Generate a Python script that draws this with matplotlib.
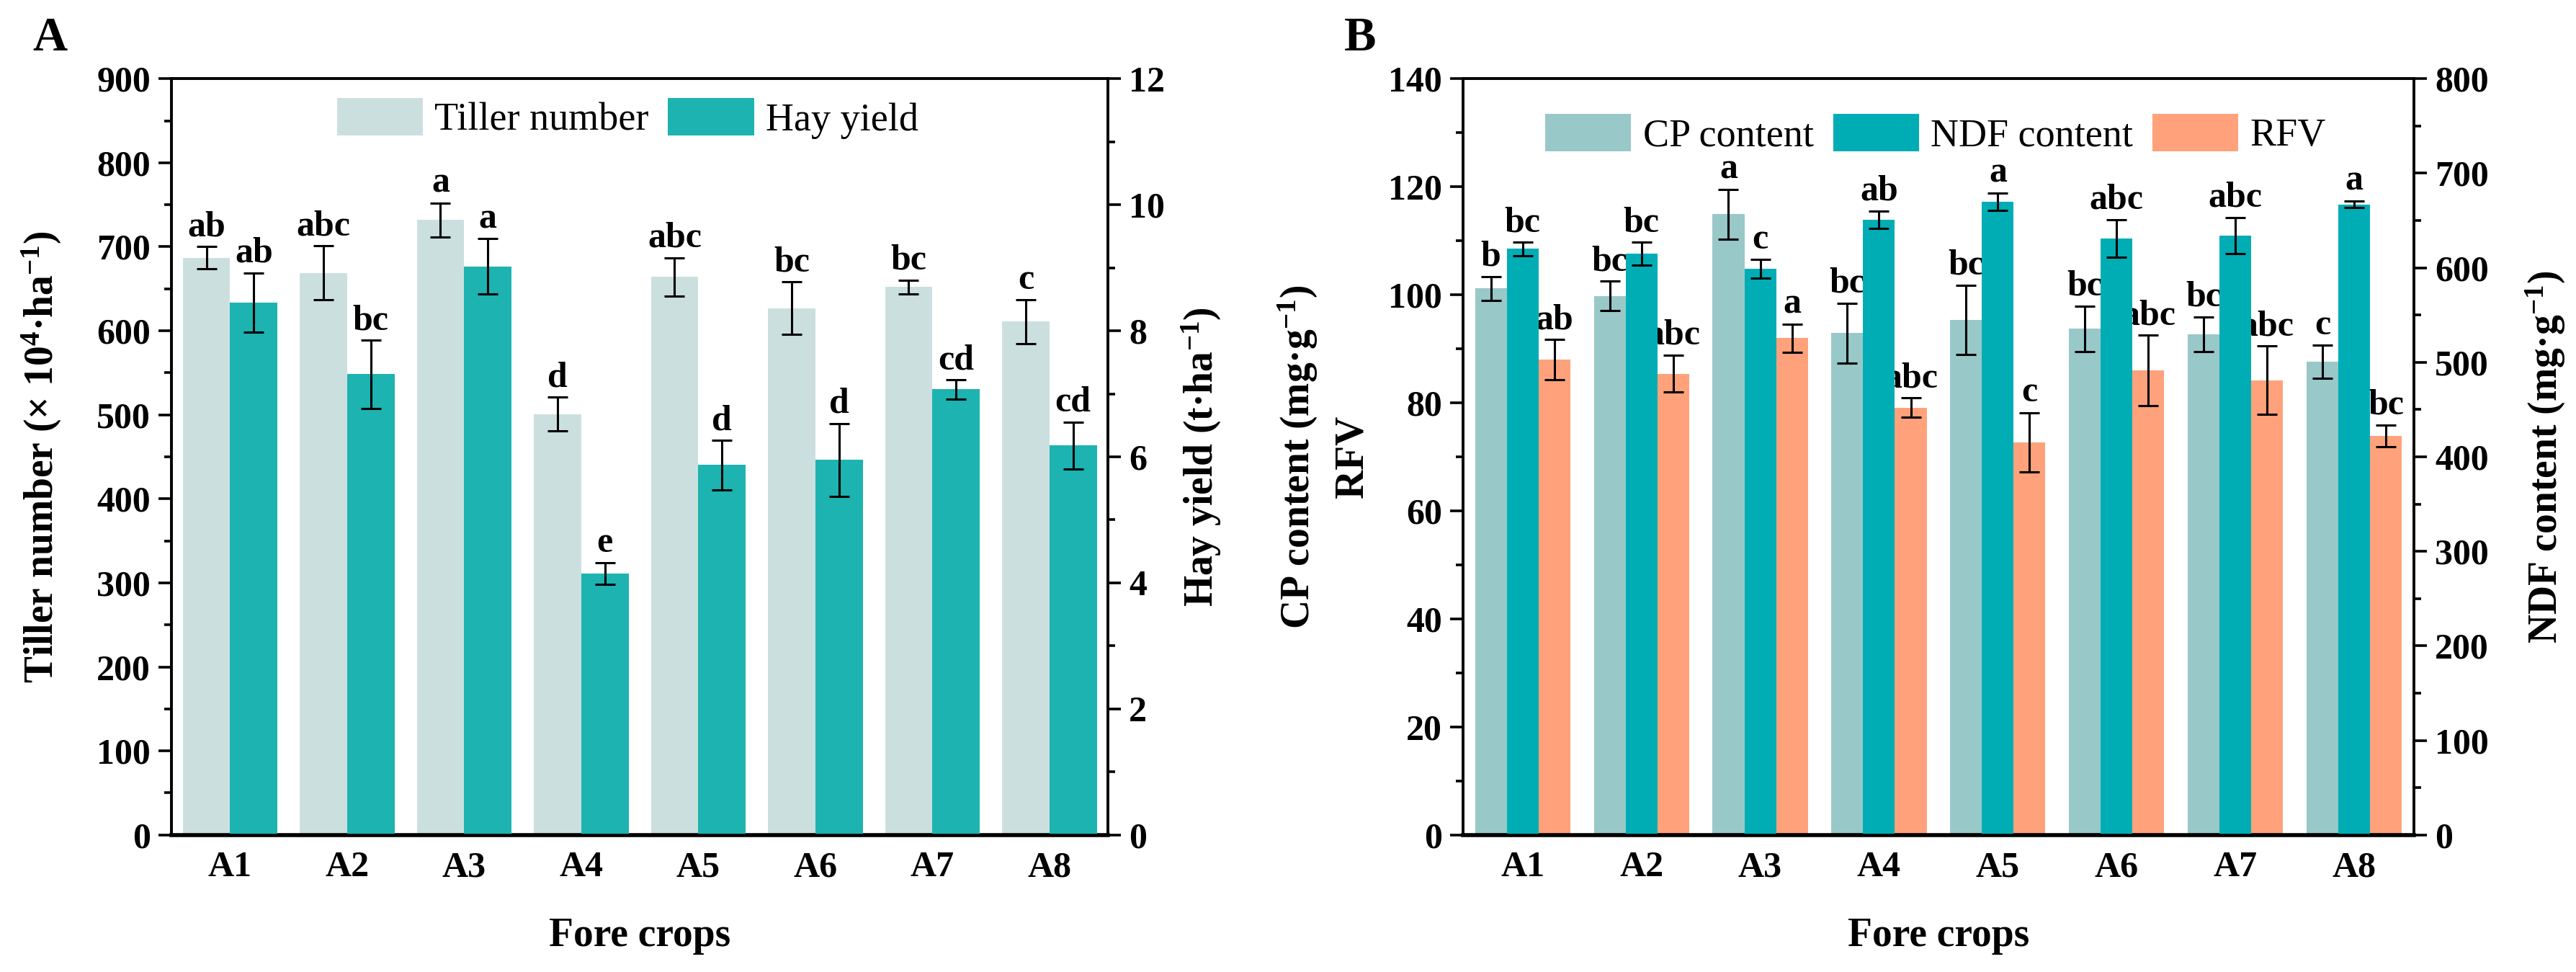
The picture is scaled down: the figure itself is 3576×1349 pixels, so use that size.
import numpy as np
import matplotlib
matplotlib.use("Agg")
import matplotlib.pyplot as plt
from matplotlib.ticker import MultipleLocator

plt.rcParams["font.family"] = ["Liberation Serif", "DejaVu Serif"]
plt.rcParams["font.weight"] = "bold"
plt.rcParams["mathtext.fontset"] = "custom"
plt.rcParams["mathtext.rm"] = "Liberation Serif:bold"
plt.rcParams["mathtext.bf"] = "Liberation Serif:bold"
plt.rcParams["mathtext.it"] = "Liberation Serif:bold"
plt.rcParams["axes.linewidth"] = 2.6

#%% DATA
crops = ["A1", "A2", "A3", "A4", "A5", "A6", "A7", "A8"]

# panel A
tiller = [687, 669, 732, 501, 664, 627, 652, 611]
tiller_err = [13, 32, 20, 20, 23, 31, 8, 26]
tiller_sig = ["ab", "abc", "a", "d", "abc", "bc", "bc", "c"]

hay = [8.45, 7.31, 9.02, 4.15, 5.87, 5.95, 7.07, 6.18]
hay_err = [0.47, 0.54, 0.44, 0.17, 0.39, 0.58, 0.15, 0.37]
hay_sig = ["ab", "bc", "a", "e", "d", "d", "cd", "cd"]

# panel B
cp = [101.2, 99.8, 114.9, 92.9, 95.4, 93.7, 92.7, 87.6]
cp_err = [2.2, 2.7, 4.6, 5.5, 6.4, 4.2, 3.2, 3.1]
cp_sig = ["b", "bc", "a", "bc", "bc", "bc", "bc", "c"]

ndf = [620, 615, 599, 651, 670, 631, 634, 667]
ndf_err = [7, 12, 10, 9, 9, 20, 19, 3.5]
ndf_sig = ["bc", "bc", "c", "ab", "a", "abc", "abc", "a"]

rfv = [88.0, 85.4, 92.0, 79.1, 72.7, 86.0, 84.2, 73.9]
rfv_err = [3.7, 3.4, 2.6, 1.8, 5.5, 6.5, 6.3, 2.0]
rfv_sig = ["ab", "abc", "a", "abc", "c", "abc", "abc", "bc"]

c_tiller = "#CBE0DE"
c_hay = "#1DB3B0"
c_cp = "#99C8C9"
c_ndf = "#01ADB5"
c_rfv = "#FFA27C"

x = np.arange(1, len(crops) + 1)
ekw = dict(ecolor="black", elinewidth=2.2, capsize=10, capthick=2.2)
tick_fs = 36
label_fs = 40
sig_fs = 36
leg_fs = 39


def style_axis(ax):
    ax.tick_params(axis="y", which="major", direction="out", length=13,
                   width=2.6, labelsize=tick_fs, pad=8)
    ax.tick_params(axis="y", which="minor", direction="out", length=7,
                   width=2.6)
    ax.tick_params(axis="x", which="both", length=0, labelsize=tick_fs,
                   pad=16)


def add_letters(ax, xs, vals, errs, sigs):
    for xi, v, e, s in zip(xs, vals, errs, sigs):
        ax.annotate(s, (xi, v + e), xytext=(0, 3), textcoords="offset points",
                    ha="center", va="bottom", fontsize=sig_fs,
                    fontweight="bold")


def vlabel(ax, xpos, txt):
    # rotated axis title centred on the given axes-fraction x
    ax.text(xpos, 0.5, txt, transform=ax.transAxes, rotation=90,
            ha="center", va="center", fontsize=label_fs, fontweight="bold")


fig = plt.figure(figsize=(35.76, 13.49), dpi=100)

#%% PANEL A
axA = fig.add_axes([0.0666, 0.141, 0.3635, 0.778])
axA2 = axA.twinx()
w = 0.405
b1 = axA.bar(x - w / 2, tiller, w, color=c_tiller, yerr=tiller_err,
             error_kw=ekw, zorder=2)
b2 = axA2.bar(x + w / 2, hay, w, color=c_hay, yerr=hay_err,
              error_kw=ekw, zorder=2)
add_letters(axA, x - w / 2, tiller, tiller_err, tiller_sig)
add_letters(axA2, x + w / 2, hay, hay_err, hay_sig)

axA.set_xlim(0.5, 8.5)
axA.set_ylim(0, 900)
axA2.set_ylim(0, 12)
axA.yaxis.set_major_locator(MultipleLocator(100))
axA.yaxis.set_minor_locator(MultipleLocator(50))
axA2.yaxis.set_major_locator(MultipleLocator(2))
axA2.yaxis.set_minor_locator(MultipleLocator(1))
axA.set_xticks(x)
axA.set_xticklabels(crops)
style_axis(axA)
style_axis(axA2)
axA.spines["bottom"].set_linewidth(4)

vlabel(axA, -0.139, r"Tiller number (× 10$^{4}$·ha$^{-1}$)")
vlabel(axA, 1.10, r"Hay yield (t·ha$^{-1}$)")
axA.text(0.5, -0.134, "Fore crops", transform=axA.transAxes, ha="center",
         va="center", fontsize=label_fs, fontweight="bold")

axA.legend([b1, b2], ["Tiller number", "Hay yield"], loc="upper center",
           bbox_to_anchor=(0.487, 1.0), ncol=2, frameon=False,
           prop={"size": leg_fs, "weight": "normal"}, handlelength=2.2,
           handleheight=1.1, handletextpad=0.3, columnspacing=0.5,
           borderaxespad=0.1)

#%% PANEL B
axB = fig.add_axes([0.568, 0.141, 0.369, 0.778])
axB2 = axB.twinx()
w = 0.267
c1 = axB.bar(x - w, cp, w, color=c_cp, yerr=cp_err, error_kw=ekw, zorder=2)
c2 = axB2.bar(x, ndf, w, color=c_ndf, yerr=ndf_err, error_kw=ekw, zorder=2)
c3 = axB.bar(x + w, rfv, w, color=c_rfv, yerr=rfv_err, error_kw=ekw, zorder=2)
add_letters(axB, x - w, cp, cp_err, cp_sig)
add_letters(axB2, x, ndf, ndf_err, ndf_sig)
add_letters(axB, x + w, rfv, rfv_err, rfv_sig)

axB.set_xlim(0.5, 8.5)
axB.set_ylim(0, 140)
axB2.set_ylim(0, 800)
axB.yaxis.set_major_locator(MultipleLocator(20))
axB.yaxis.set_minor_locator(MultipleLocator(10))
axB2.yaxis.set_major_locator(MultipleLocator(100))
axB2.yaxis.set_minor_locator(MultipleLocator(50))
axB.set_xticks(x)
axB.set_xticklabels(crops)
style_axis(axB)
style_axis(axB2)
axB.spines["bottom"].set_linewidth(4)

vlabel(axB, -0.1735, r"CP content (mg·g$^{-1}$)")
vlabel(axB, -0.1167, "RFV")
vlabel(axB, 1.1386, r"NDF content (mg·g$^{-1}$)")
axB.text(0.5, -0.134, "Fore crops", transform=axB.transAxes, ha="center",
         va="center", fontsize=label_fs, fontweight="bold")

axB.legend([c1, c2, c3], ["CP content", "NDF content", "RFV"],
           loc="upper center", bbox_to_anchor=(0.497, 1.0), ncol=3,
           frameon=False, prop={"size": leg_fs, "weight": "normal"},
           handlelength=2.2, handleheight=1.1, handletextpad=0.3,
           columnspacing=0.5, borderaxespad=0.5)

#%% PANEL LETTERS
fig.text(69 / 3576, 1 - 54 / 1349, "A", fontsize=48, fontweight="bold",
         ha="center", va="center")
fig.text(1888 / 3576, 1 - 54 / 1349, "B", fontsize=48, fontweight="bold",
         ha="center", va="center")

fig.savefig("out.png", dpi=100)
